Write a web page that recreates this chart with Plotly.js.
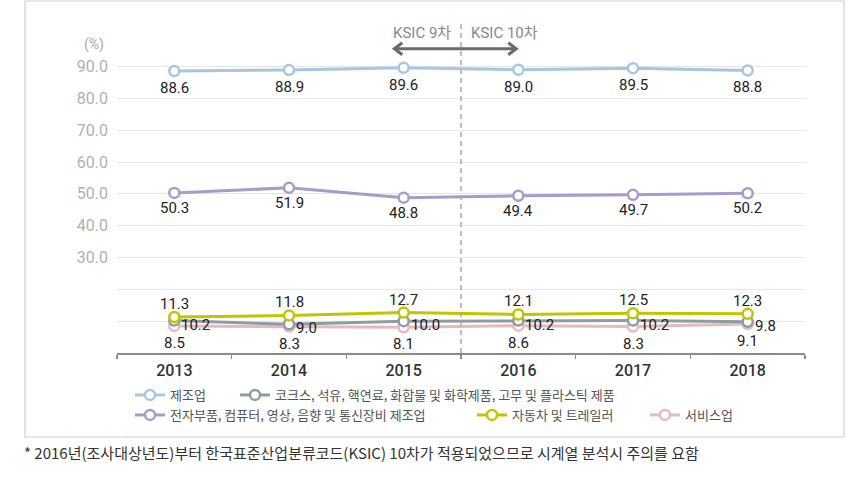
<!DOCTYPE html>
<html>
<head>
<meta charset="utf-8">
<script src="https://cdn.plot.ly/plotly-3.0.1.min.js"></script>
<style>html,body{margin:0;padding:0;background:#fff;}#chart{width:860px;height:483px;}</style>
</head>
<body>
<div id="chart"></div>
<script>
const years = ['2013', '2014', '2015', '2016', '2017', '2018'];
const seriesNames = ['제조업', '코크스, 석유, 핵연료, 화합물 및 화학제품, 고무 및 플라스틱 제품', '전자부품, 컴퓨터, 영상, 음향 및 통신장비 제조업', '자동차 및 트레일러', '서비스업'];
const manufacturing = [88.6, 88.9, 89.6, 89.0, 89.5, 88.8];
const chemicals = [10.2, 9.0, 10.0, 10.2, 10.2, 9.8];
const electronics = [50.3, 51.9, 48.8, 49.4, 49.7, 50.2];
const automobiles = [11.3, 11.8, 12.7, 12.1, 12.5, 12.3];
const services = [8.5, 8.3, 8.1, 8.6, 8.3, 9.1];
const yTickVals = [10, 20, 30, 40, 50, 60, 70, 80, 90];
const yTickText = ['', '', '30.0', '40.0', '50.0', '60.0', '70.0', '80.0', '90.0'];
const noteText = '* 2016년(조사대상년도)부터 한국표준산업분류코드(KSIC) 10차가 적용되었으므로 시계열 분석시 주의를 요함';

const W = 860, H = 483;
const L = 117, R = 805, T = 22, B = 353;
const px2x = p => (p - L) / (R - L);
const px2y = p => (B - p) / (B - T);

const colors = ['#a7c6df', '#8f9ca6', '#a79bc9', '#bec600', '#e7b8bc'];
const data = [manufacturing, chemicals, electronics, automobiles, services];
// label offsets per series [xshift, yshift, xanchor]
const labelCfg = [[0, -17, 'center'], [5, -4, 'left'], [0, -15, 'center'], [0, 13, 'center'], [0, -17, 'center']];
const legendPos = [[130, 395], [235, 395], [130, 415], [472, 415], [645, 415]];
const drawOrder = [0, 2, 4, 1, 3];

const traces = drawOrder.map(i => ({
  type: 'scatter', mode: 'lines+markers',
  x: years, y: data[i], name: seriesNames[i],
  legend: i === 0 ? 'legend' : 'legend' + (i + 1),
  line: {color: colors[i], width: 3},
  marker: {symbol: 'circle', size: 10, color: '#ffffff', line: {color: colors[i], width: 2.5}},
  hoverinfo: 'skip'
}));

const annotations = [];
data.forEach((arr, i) => {
  arr.forEach((v, j) => {
    annotations.push({
      x: j, y: v, xref: 'x', yref: 'y', text: v.toFixed(1), showarrow: false,
      xanchor: labelCfg[i][2], yanchor: 'middle', xshift: labelCfg[i][0], yshift: labelCfg[i][1],
      font: {family: 'Roboto, sans-serif', size: 15, color: '#222'}
    });
  });
});
annotations.push({x: px2x(106), y: px2y(45), xref: 'paper', yref: 'paper', text: '(%)', showarrow: false,
  xanchor: 'right', yanchor: 'middle', font: {family: 'Roboto, sans-serif', size: 14, color: '#aaa'}});
annotations.push({x: px2x(453), y: px2y(33), xref: 'paper', yref: 'paper', text: 'KSIC 9차', showarrow: false,
  xanchor: 'right', yanchor: 'middle', font: {family: 'Roboto, "Noto Sans CJK KR", sans-serif', size: 15, color: '#888'}});
annotations.push({x: px2x(469), y: px2y(33), xref: 'paper', yref: 'paper', text: 'KSIC 10차', showarrow: false,
  xanchor: 'left', yanchor: 'middle', font: {family: 'Roboto, "Noto Sans CJK KR", sans-serif', size: 15, color: '#888'}});
annotations.push({x: px2x(22), y: px2y(452), xref: 'paper', yref: 'paper', text: noteText, showarrow: false,
  xanchor: 'left', yanchor: 'middle', font: {family: '"Noto Sans CJK KR", sans-serif', size: 15, color: '#333'}});

const shapes = [
  {type: 'rect', xref: 'paper', yref: 'paper', x0: px2x(25), x1: px2x(844), y0: px2y(437), y1: px2y(1),
   line: {color: '#cfcfcf', width: 1.2}, fillcolor: 'rgba(0,0,0,0)', layer: 'below'},
  {type: 'line', xref: 'x', yref: 'y', x0: 2.5, x1: 2.5, y0: 0, y1: 104,
   line: {color: '#a8a8a8', width: 1.5, dash: '5px,4px'}},
  {type: 'path', xref: 'x', yref: 'y', xsizemode: 'pixel', ysizemode: 'pixel', xanchor: 2.45, yanchor: 95.6,
   path: 'M-60,0 L61,0 M-53,-6 L-61,0 L-53,6 M53,-6 L61,0 L53,6',
   line: {color: '#6b6b6b', width: 3}}
];

const legendBase = {orientation: 'h', xanchor: 'left', yanchor: 'middle', bgcolor: 'rgba(0,0,0,0)',
  font: {family: '"Noto Sans CJK KR", sans-serif', size: 13, color: '#555'}, itemclick: false, itemdoubleclick: false};
const layout = {
  width: W, height: H,
  margin: {l: L, r: W - R, t: T, b: H - B},
  paper_bgcolor: '#fff', plot_bgcolor: '#fff',
  showlegend: true,
  xaxis: {type: 'category', range: [-0.5, 5.5], showgrid: false, zeroline: false,
    showline: true, linecolor: '#8a8a8a', linewidth: 1.5,
    ticks: 'outside', tickson: 'boundaries', ticklen: 4, tickcolor: '#8a8a8a', tickwidth: 1.5,
    tickfont: {family: 'Roboto, sans-serif', size: 16, color: '#333', weight: 500}, ticklabelstandoff: 2},
  yaxis: {range: [0, 104], tickvals: yTickVals, ticktext: yTickText, showgrid: true, gridcolor: '#e6e6e6', gridwidth: 1,
    zeroline: false, showline: false, ticks: '', ticklabelstandoff: 8,
    tickfont: {family: 'Roboto, sans-serif', size: 16, color: '#b0b0b0'}},
  annotations: annotations,
  shapes: shapes
};
legendPos.forEach((p, i) => {
  const key = i === 0 ? 'legend' : 'legend' + (i + 1);
  layout[key] = Object.assign({}, legendBase, {x: px2x(p[0]), y: px2y(p[1])});
});

Plotly.newPlot('chart', traces, layout, {displayModeBar: false, staticPlot: true});
</script>
</body>
</html>
